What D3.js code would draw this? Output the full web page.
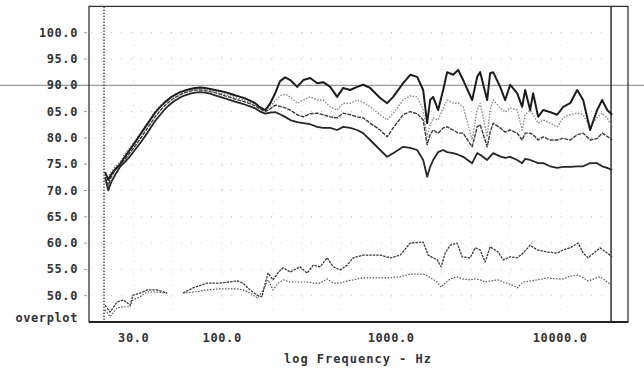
<!DOCTYPE html>
<html>
<head>
<meta charset="utf-8">
<script src="https://cdn.jsdelivr.net/npm/d3@7"></script>
<style>
  body { margin: 0; background: #fff; }
  svg { display: block; }
  .lbl { font-family: "DejaVu Sans Mono", monospace; font-weight: bold; font-size: 12px; fill: #333; letter-spacing: 0.6px; }
</style>
</head>
<body>
<svg id="chart" width="644" height="368"></svg>
<script>
// Frequency response overplot

// tick labels
var yTicks = [100, 95, 90, 85, 80, 75, 70, 65, 60, 55, 50];
var yTickLabels = ["100.0", "95.0", "90.0", "05.0", "80.0", "75.0", "70.0", "65.0", "60.0", "55.0", "50.0"];
var xTicks = [30, 100, 1000, 10000];
var xTickLabels = ["30.0", "100.0", "1000.0", "10000.0"];
var gridFreqs = [30, 50, 100, 200, 300, 500, 1000, 2000, 3000, 5000, 10000];

// upper group: four on/off-axis curves (Hz)
var upperFreq = [20.3, 21.2, 22.0, 23.3, 24.9, 26.7, 28.5, 30.6, 32.7, 35.0, 37.5, 40.1, 43.0, 46.0, 49.2, 52.7, 56.4, 60.4, 64.7, 69.2,
  74.1, 79.3, 84.9, 90.9, 97.3, 104, 112, 119, 128, 137, 146, 157, 168, 180, 192, 206, 220, 236,
  253, 278, 302, 332, 365, 396, 436, 479, 520, 572, 629, 683, 751, 861, 947, 1028, 1178, 1296, 1425, 1547,
  1633, 1701, 1772, 1897, 2031, 2145, 2327, 2492, 2667, 3016, 3228, 3363, 3699, 3853, 4014, 4416, 4727, 5060, 5567, 5958,
  6207, 6644, 6921, 7409, 7932, 8728, 9600, 10420, 11460, 12610, 13680, 15050, 16550, 17720, 18970, 20310];

var curveA = [73.5, 72.0, 73.0, 74.0, 75.0, 76.5, 77.8, 79.2, 80.6, 82.0, 83.4, 84.8, 85.9, 86.8, 87.6, 88.2, 88.7, 89.0, 89.3, 89.5,
  89.6, 89.5, 89.3, 89.1, 88.9, 88.7, 88.4, 88.1, 87.8, 87.5, 87.1, 86.6, 85.8, 85.3, 86.5, 88.5, 90.8, 91.5,
  91.0, 89.7, 91.0, 91.4, 90.4, 90.6, 89.7, 87.8, 89.5, 89.1, 89.7, 90.1, 89.5, 87.6, 86.6, 87.8, 90.4, 92.0, 91.6, 89.1,
  82.8, 87.2, 87.8, 85.3, 89.1, 92.5, 92.0, 92.9, 91.0, 87.2, 91.6, 92.5, 87.2, 92.3, 92.5, 89.7, 87.2, 90.1, 88.5, 85.9,
  89.1, 85.3, 88.5, 84.0, 85.3, 84.9, 84.4, 85.9, 86.6, 89.1, 87.2, 81.5, 85.3, 87.2, 85.3, 84.4];

var curveB = [73.0, 72.5, 73.5, 74.5, 75.5, 77.0, 78.2, 79.5, 80.8, 82.2, 83.6, 85.0, 86.1, 87.0, 87.7, 88.3, 88.7, 89.0, 89.2, 89.3,
  89.3, 89.2, 89.0, 88.8, 88.5, 88.3, 88.0, 87.7, 87.4, 87.1, 86.8, 86.4, 85.7, 85.2, 86.0, 87.0, 88.0, 88.3,
  87.8, 86.6, 87.2, 87.8, 87.2, 87.2, 85.9, 85.3, 86.6, 86.6, 87.2, 86.8, 85.9, 84.4, 83.4, 84.7, 87.2, 88.0, 87.8, 85.3,
  80.2, 82.5, 83.8, 83.4, 85.7, 87.2, 86.6, 86.6, 85.9, 79.6, 85.3, 86.6, 80.2, 85.3, 87.2, 85.7, 84.9, 85.7, 85.3, 81.5,
  84.4, 85.3, 84.4, 82.8, 83.4, 82.8, 82.1, 83.9, 84.4, 84.7, 84.4, 82.1, 83.9, 84.7, 83.8, 82.1];

var curveC = [72.5, 71.0, 72.5, 74.0, 75.0, 76.0, 77.2, 78.5, 79.8, 81.2, 82.6, 84.0, 85.2, 86.2, 87.0, 87.7, 88.2, 88.6, 88.9, 89.1,
  89.1, 89.0, 88.8, 88.6, 88.3, 88.0, 87.7, 87.4, 87.1, 86.8, 86.5, 86.1, 85.5, 85.0, 85.5, 86.2, 86.0, 85.7,
  85.3, 84.4, 84.0, 84.6, 84.7, 84.4, 84.0, 83.8, 84.7, 84.4, 84.0, 83.8, 82.8, 81.5, 80.2, 81.9, 84.4, 85.0, 84.6, 83.4,
  78.7, 80.6, 81.5, 80.9, 81.9, 82.1, 81.5, 80.9, 80.9, 78.3, 82.1, 82.5, 78.3, 81.1, 82.8, 81.9, 81.1, 81.5, 80.9, 79.6,
  80.9, 80.9, 80.6, 79.6, 80.2, 79.6, 79.6, 79.9, 79.6, 80.6, 80.9, 79.6, 79.9, 80.9, 80.3, 79.6];

var curveD = [72.5, 70.0, 71.5, 73.0, 74.5, 75.5, 76.5, 77.8, 79.0, 80.3, 81.8, 83.2, 84.4, 85.5, 86.4, 87.1, 87.7, 88.1, 88.4, 88.6,
  88.7, 88.6, 88.4, 88.1, 87.8, 87.5, 87.2, 86.9, 86.6, 86.3, 86.0, 85.6, 85.0, 84.6, 84.8, 84.9, 84.5, 84.0,
  83.4, 83.0, 82.8, 82.6, 82.1, 81.9, 81.9, 81.5, 82.1, 81.9, 81.5, 80.9, 79.6, 77.7, 76.4, 77.1, 78.3, 78.1, 77.7, 75.8,
  72.6, 74.5, 75.8, 77.3, 77.7, 77.3, 77.1, 76.8, 76.4, 75.2, 77.1, 76.8, 75.8, 76.5, 77.1, 76.5, 76.2, 76.4, 75.8, 75.2,
  76.0, 75.8, 75.6, 75.2, 75.2, 74.6, 74.3, 74.5, 74.5, 74.6, 74.6, 75.2, 75.2, 74.6, 74.3, 73.9];

// lower group: two curves, null = gap in the plot
var lowerFreq = [20.3, 21.7, 23.9, 26.0, 28.5, 29.7, 32.7, 36.0, 41.2, 47.3, 50.6, 58.8, 67.4, 81.5, 97.3, 123, 133, 146, 161, 172,
  180, 187, 200, 215, 230, 253, 289, 318, 346, 380, 418, 454, 499, 549, 596, 683, 783, 861, 987, 1131,
  1296, 1547, 1656, 1872, 1976, 2087, 2234, 2458, 2631, 2934, 3141, 3363, 3599, 3853, 4297, 4600, 5060, 5567, 6040, 6644,
  7310, 8378, 9600, 10420, 11460, 12780, 13680, 14640, 17250, 18970, 20310];

var curveE = [48.2, 46.9, 48.8, 49.2, 48.2, 50.1, 50.5, 51.1, 51.1, 50.5, null, 50.5, 51.5, 52.4, 52.4, 52.8, 52.4, 51.1, 50.1, 49.8,
  52.4, 54.3, 53.0, 54.5, 55.3, 54.5, 55.5, 54.3, 55.8, 55.5, 57.2, 55.5, 54.9, 55.8, 57.2, 57.7, 57.7, 57.7, 57.2, 57.7,
  60.0, 60.2, 57.7, 56.8, 55.5, 58.1, 59.6, 60.0, 57.4, 57.2, 59.1, 58.7, 56.4, 59.3, 58.3, 56.8, 57.4, 57.2, 58.1, 59.6,
  58.7, 58.3, 58.1, 58.7, 59.1, 60.0, 58.1, 57.2, 59.1, 58.1, 57.4];

var curveF = [47.3, 46.0, 47.7, 47.9, 47.9, 49.2, 49.8, 50.7, 50.7, 50.5, null, 50.5, 50.7, 51.1, 51.3, 51.3, 51.1, 50.5, 49.6, 50.7,
  51.8, 53.0, 51.1, 52.4, 53.0, 52.6, 52.6, 52.6, 52.4, 52.4, 53.2, 52.4, 52.4, 52.8, 53.0, 53.4, 53.4, 53.4, 53.4, 53.6,
  54.1, 54.1, 53.7, 52.6, 51.6, 52.4, 53.2, 53.6, 53.2, 53.0, 53.2, 53.0, 52.6, 52.8, 53.0, 52.6, 52.2, 51.5, 52.6, 52.8,
  53.0, 53.4, 53.2, 53.2, 53.7, 53.9, 53.4, 52.8, 53.6, 52.6, 52.0];

var svg = d3.select("#chart");
var plotL = 89, plotR = 628, plotT = 6.4, plotB = 322;

var x = d3.scaleLog().domain([16.3, 25200]).range([plotL, plotR]);
var y = d3.scaleLinear().domain([45, 105]).range([plotB, plotT]);

svg.append("rect").attr("width", 644).attr("height", 368).attr("fill", "#fff");

// faint dotted grid
svg.append("g").selectAll("line")
    .data(yTicks.filter(function (d) { return d != 90; }))
    .enter().append("line")
    .attr("x1", plotL + 2).attr("x2", 612)
    .attr("y1", function (d) { return y(d); }).attr("y2", function (d) { return y(d); })
    .attr("stroke", "#bdbdbd").attr("stroke-width", 1).attr("stroke-dasharray", "1,9");
svg.append("g").selectAll("line")
    .data(gridFreqs)
    .enter().append("line")
    .attr("x1", function (d) { return x(d); }).attr("x2", function (d) { return x(d); })
    .attr("y1", y(100)).attr("y2", plotB - 2)
    .attr("stroke", "#c8c8c8").attr("stroke-width", 1).attr("stroke-dasharray", "1,11");

// 90 dB reference line runs across the whole sheet
svg.append("line")
    .attr("x1", 0).attr("x2", 644).attr("y1", y(90)).attr("y2", y(90))
    .attr("stroke", "#9a9a9a").attr("stroke-width", 1.2);

// frame
svg.append("rect")
    .attr("x", plotL).attr("y", plotT).attr("width", plotR - plotL).attr("height", plotB - plotT)
    .attr("fill", "none").attr("stroke", "#333").attr("stroke-width", 1.3);
svg.append("line")
    .attr("x1", plotL).attr("x2", plotR).attr("y1", plotB).attr("y2", plotB)
    .attr("stroke", "#222").attr("stroke-width", 2.2);
svg.append("line")  // 20 kHz
    .attr("x1", x(20000)).attr("x2", x(20000)).attr("y1", plotT).attr("y2", plotB)
    .attr("stroke", "#222").attr("stroke-width", 1.4);
svg.append("line")  // 20 Hz
    .attr("x1", x(20)).attr("x2", x(20)).attr("y1", plotT).attr("y2", plotB)
    .attr("stroke", "#444").attr("stroke-width", 1.4).attr("stroke-dasharray", "1.5,1.5");

// left ticks + labels
svg.append("g").selectAll("line")
    .data(yTicks).enter().append("line")
    .attr("x1", plotL - 5).attr("x2", plotL - 2)
    .attr("y1", function (d) { return y(d); }).attr("y2", function (d) { return y(d); })
    .attr("stroke", "#999");
svg.append("g").selectAll("text")
    .data(yTicks).enter().append("text")
    .attr("class", "lbl")
    .attr("x", 78).attr("y", function (d) { return y(d) + 4; })
    .attr("text-anchor", "end")
    .text(function (d, i) { return yTickLabels[i]; });
svg.append("text").attr("class", "lbl")
    .attr("x", 78).attr("y", 322).attr("text-anchor", "end")
    .text("overplot");

// bottom labels
svg.append("g").selectAll("text")
    .data(xTicks).enter().append("text")
    .attr("class", "lbl")
    .attr("x", function (d) { return x(d); }).attr("y", 342)
    .attr("text-anchor", "middle")
    .text(function (d, i) { return xTickLabels[i]; });
svg.append("text").attr("class", "lbl")
    .attr("x", 358).attr("y", 363).attr("text-anchor", "middle")
    .style("letter-spacing", "1px")
    .text("log Frequency - Hz");

// curves
var line = d3.line()
    .defined(function (d) { return d[1] != null; })
    .x(function (d) { return x(d[0]); })
    .y(function (d) { return y(d[1]); });

function pairs(freq, vals) {
    return freq.map(function (f, i) { return [f, vals[i]]; });
}

var series = [
    { freq: upperFreq, vals: curveD, color: "#262626", width: 1.8, dash: null },
    { freq: upperFreq, vals: curveC, color: "#3c3c3c", width: 1.4, dash: "4,1" },
    { freq: upperFreq, vals: curveB, color: "#8c8c8c", width: 1.4, dash: "1.5,1.5" },
    { freq: upperFreq, vals: curveA, color: "#1c1c1c", width: 2, dash: null },
    { freq: lowerFreq, vals: curveE, color: "#3a3a3a", width: 1.3, dash: "2.5,1" },
    { freq: lowerFreq, vals: curveF, color: "#555", width: 1.2, dash: "1.5,1.5" }
];

svg.append("g").selectAll("path")
    .data(series).enter().append("path")
    .attr("d", function (s) { return line(pairs(s.freq, s.vals)); })
    .attr("fill", "none")
    .attr("stroke", function (s) { return s.color; })
    .attr("stroke-width", function (s) { return s.width; })
    .attr("stroke-dasharray", function (s) { return s.dash; })
    .attr("stroke-linejoin", "round");
</script>
</body>
</html>
